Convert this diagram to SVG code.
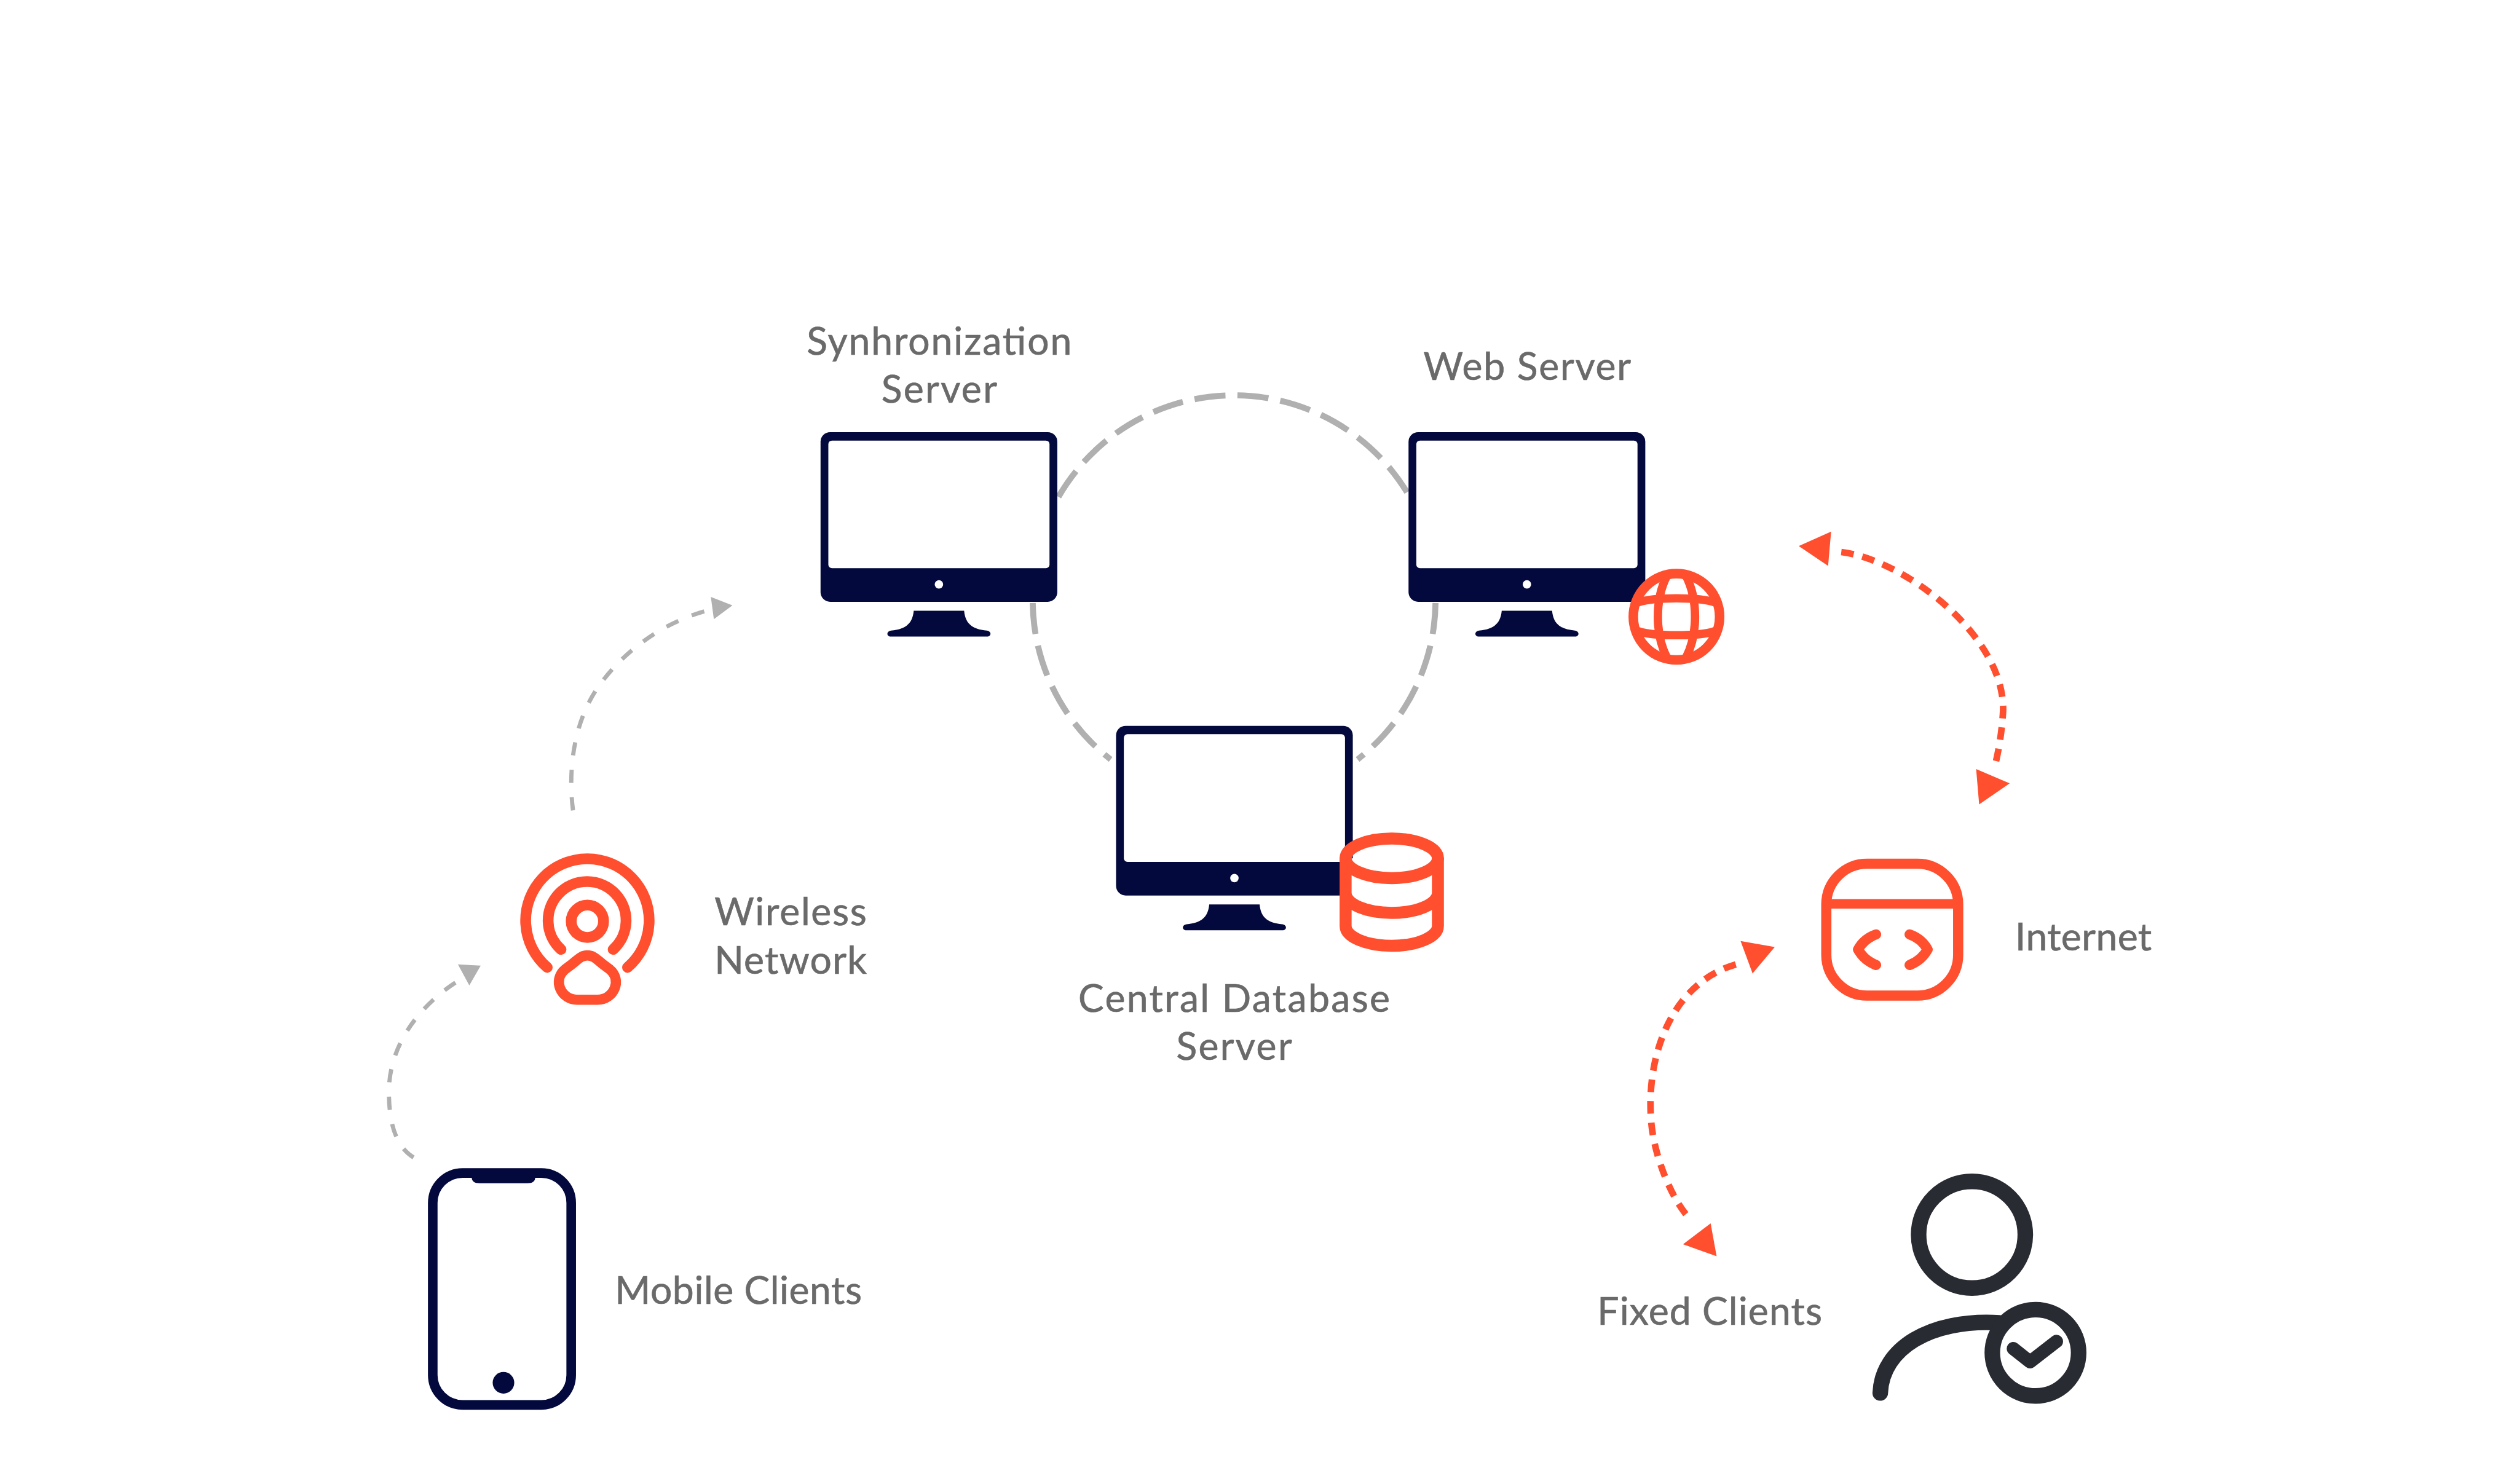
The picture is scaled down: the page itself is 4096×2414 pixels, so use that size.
<svg xmlns="http://www.w3.org/2000/svg" xmlns:xlink="http://www.w3.org/1999/xlink" width="4096" height="2414" viewBox="0 0 4096 2414">
<style>
.t{font-family:"Lato","Liberation Sans",sans-serif;font-size:64px;fill:#6A6A6A;stroke:#6A6A6A;stroke-width:.7px}
.m{text-anchor:middle}
.o{fill:none;stroke:#FF4F2F;stroke-linecap:round;stroke-linejoin:round}
.n{fill:none;stroke:#03093C}
.d{fill:none;stroke:#292B33;stroke-linecap:round;stroke-linejoin:round}
.ring{fill:none;stroke:#B0B0B0;stroke-width:10;stroke-dasharray:52 20}
.ga{fill:none;stroke:#B0B0B0;stroke-width:7;stroke-dasharray:22 24}
.oa{fill:none;stroke:#FF4F2F;stroke-width:11;stroke-dasharray:21 15}
.hg{fill:#B0B0B0}
.ho{fill:#FF4F2F}
</style>
<defs>
<g id="monitor">
<rect width="395" height="283" rx="16" fill="#03093C"/>
<rect x="13" y="14" width="369" height="213" rx="6" fill="#fff"/>
<ellipse cx="197.500" cy="254" rx="7" ry="7" fill="#fff"/>
<path d="M155.500 298H239.500C241.500 319 252.500 329 277.500 331C285.500 332 285.500 341 277.500 341H117.500C109.500 341 109.500 332 117.500 331C142.500 329 153.500 319 155.500 298Z" fill="#03093C"/>
</g>
</defs>
<rect width="4096" height="2414" fill="#fff"/>
<g transform="scale(0.975)">
<g id="connectors">
<path class="ring" d="M1766 829A338 338 0 0 1 2352 829"/>
<path class="ring" d="M2395 1006A336 336 0 0 1 2265 1267"/>
<path class="ring" d="M1723 1006A336 336 0 0 0 1853 1267"/>
<path class="ga" d="M690 1931C655 1910 648 1860 649 1815C652 1730 715 1665 772 1632"/>
<polygon class="hg" points="802,1611 764,1609 783,1644"/>
<path class="ga" d="M956 1352C948 1290 955 1210 996 1149C1040 1085 1110 1035 1190 1016"/>
<polygon class="hg" points="1222,1010 1186,996 1191,1033"/>
<path class="oa" d="M3072 921C3175 933 3345 1060 3342 1186C3340 1220 3335 1250 3329 1275"/>
<polygon class="ho" points="3001,911 3055,887 3050,944"/>
<polygon class="ho" points="3353,1307 3297,1283 3302,1342"/>
<path class="oa" d="M2896 1609C2790 1640 2745 1760 2755 1873C2760 1930 2790 2005 2822 2036"/>
<polygon class="ho" points="2961,1580 2904,1570 2924,1624"/>
<polygon class="ho" points="2808,2076 2854,2041 2864,2096"/>
</g>
<g id="sync-server">
<use xlink:href="#monitor" href="#monitor" x="1369" y="721"/>
<text class="t m" x="1567" y="592" textLength="442">Synhronization</text>
<text class="t m" x="1567" y="672" textLength="193">Server</text>
</g>
<g id="web-server">
<use xlink:href="#monitor" href="#monitor" x="2350" y="721"/>
<text class="t m" x="2548" y="634" textLength="346">Web Server</text>
<circle cx="2797" cy="1029" r="72" fill="#fff" stroke="#FF4F2F" stroke-width="16"/>
<path class="o" stroke-width="14" d="M2733 1005C2760 996 2834 996 2861 1005M2733 1053C2760 1062 2834 1062 2861 1053M2781 961C2761 1000 2761 1058 2781 1097M2813 961C2833 1000 2833 1058 2813 1097"/>
</g>
<g id="database-server">
<use xlink:href="#monitor" href="#monitor" x="1862" y="1211"/>
<text class="t m" x="2059" y="1688" textLength="520">Central Database</text>
<text class="t m" x="2059" y="1768" textLength="193">Server</text>
<path d="M2245 1432V1545A77 33 0 0 0 2399 1545V1432Z" fill="#fff"/>
<ellipse class="o" cx="2322" cy="1432" rx="77" ry="33" fill="#fff" stroke-width="20"/>
<path class="o" d="M2245 1432V1545A77 33 0 0 0 2399 1545V1432M2245 1490A77 33 0 0 0 2399 1490" stroke-width="20"/>
</g>
<g id="wireless-network">
<path class="o" stroke-width="18" d="M913 1614A103 103 0 1 1 1047 1614"/>
<path class="o" stroke-width="18" d="M936 1584A65 65 0 1 1 1023 1584"/>
<circle class="o" stroke-width="18" cx="980" cy="1537" r="27"/>
<path class="o" stroke-width="17" d="M980 1594C970 1594 965 1600 955 1608L943 1617C921 1635 936 1668 963 1668H997C1024 1668 1039 1635 1017 1617L1005 1608C995 1600 990 1594 980 1594Z"/>
<text class="t" x="1192" y="1544" textLength="254">Wireless</text>
<text class="t" x="1192" y="1625" textLength="254">Network</text>
</g>
<g id="mobile-clients">
<rect class="n" x="722" y="1957" width="231" height="387" rx="50" stroke-width="16"/>
<path d="M787 1957H893V1964Q893 1974 880 1974H800Q787 1974 787 1964Z" fill="#03093C"/>
<ellipse cx="840" cy="2307" rx="18" ry="18" fill="#03093C"/>
<text class="t" x="1026" y="2175" textLength="412">Mobile Clients</text>
</g>
<g id="internet">
<rect class="o" x="3047" y="1441" width="220" height="220" rx="68" stroke-width="17"/>
<path class="o" stroke-width="16" d="M3047 1508H3267"/>
<path class="o" stroke-width="17" d="M3130 1559Q3110 1566 3100 1584Q3110 1602 3130 1610M3186 1559Q3206 1566 3216 1584Q3206 1602 3186 1610"/>
<text class="t" x="3362" y="1586" textLength="228">Internet</text>
</g>
<g id="fixed-clients">
<circle class="d" cx="3290" cy="2060" r="89" stroke-width="26"/>
<path class="d" stroke-width="26" d="M3137 2324C3140 2250 3220 2200 3336 2207"/>
<circle class="d" cx="3396" cy="2257" r="72" fill="#fff" stroke-width="26"/>
<path class="d" stroke-width="22" d="M3359 2250L3387 2272L3431 2238"/>
<text class="t" x="2665" y="2210" textLength="375">Fixed Clients</text>
</g>
</g>
</svg>
